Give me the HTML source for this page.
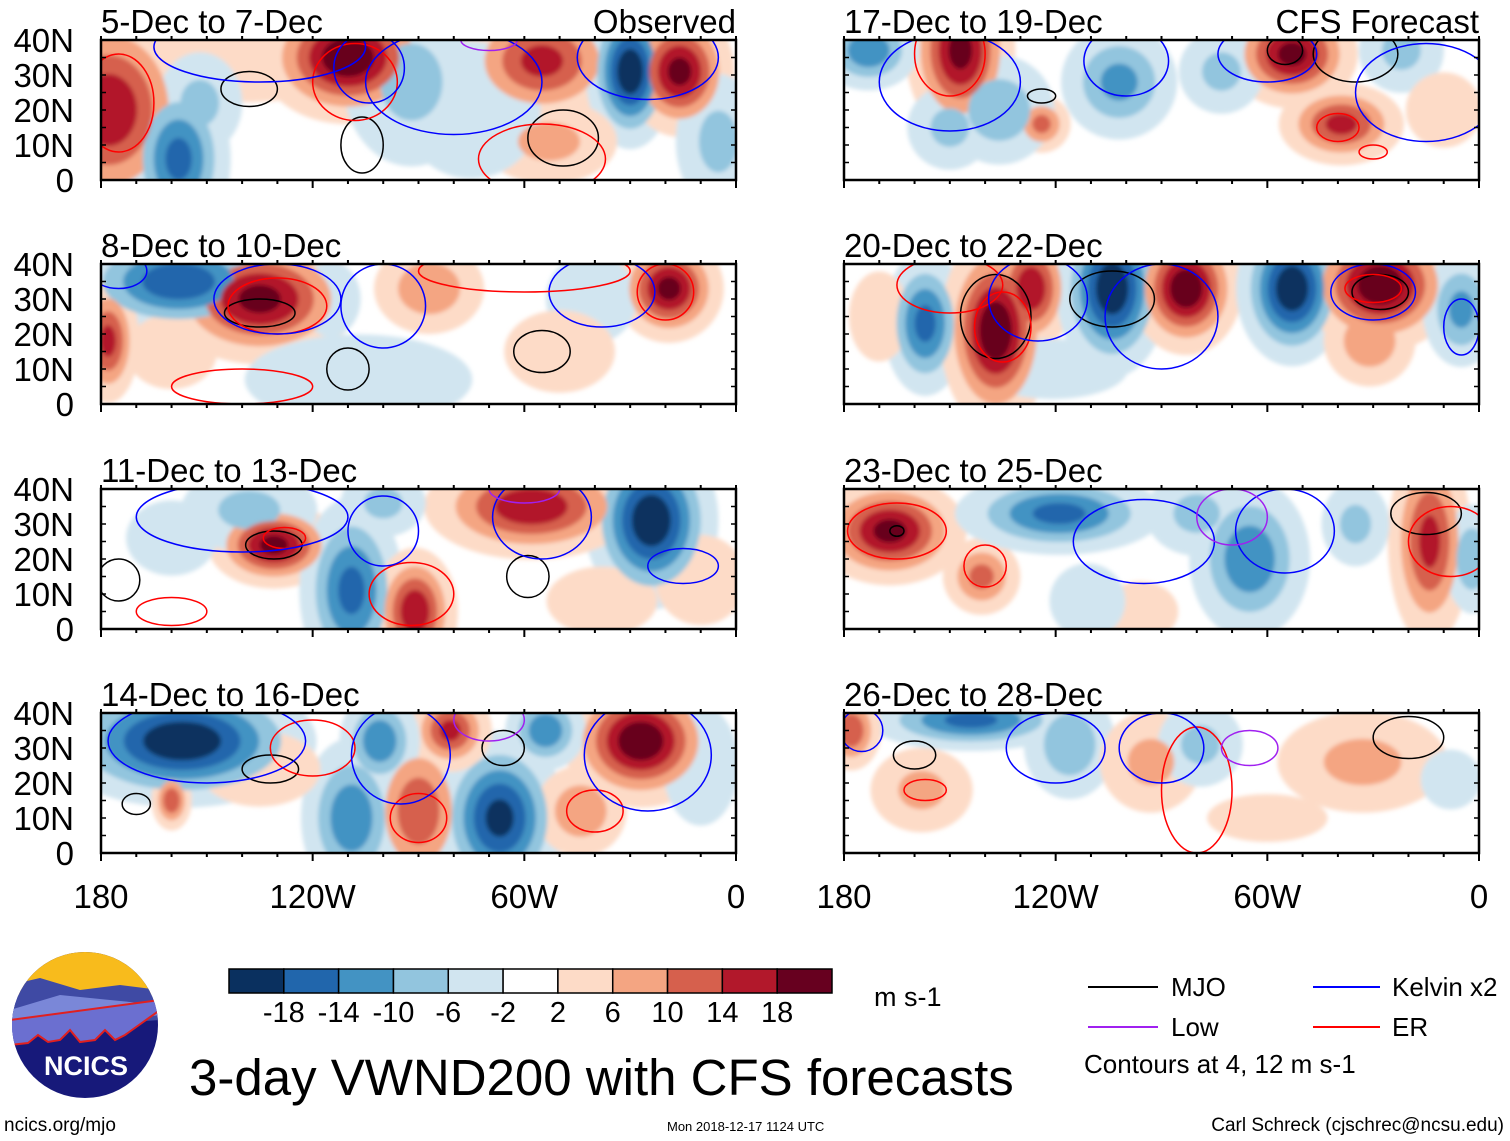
<!DOCTYPE html>
<html><head><meta charset="utf-8">
<style>
body{margin:0;background:#fff;}
svg{display:block;font-family:"Liberation Sans",Arial,sans-serif;}
</style></head>
<body>
<svg id="chart" width="1510" height="1141" viewBox="0 0 1510 1141" xmlns="http://www.w3.org/2000/svg">
<defs>
<filter id="soft" x="-20%" y="-20%" width="140%" height="140%"><feGaussianBlur stdDeviation="2"/></filter>
</defs>
<rect width="1510" height="1141" fill="#fff"/>
<g id="panels"></g>
<g id="colorbar"></g>
<text x="874" y="1006" font-size="27">m s-1</text>
<text x="189" y="1095" font-size="51">3-day VWND200 with CFS forecasts</text>
<text x="4" y="1131" font-size="19">ncics.org/mjo</text>
<text x="667" y="1131" font-size="13">Mon 2018-12-17 1124 UTC</text>
<text x="1504" y="1131" font-size="19" text-anchor="end">Carl Schreck (cjschrec@ncsu.edu)</text>
<g font-size="26">
 <g><line x1="1088" y1="987" x2="1158" y2="987" stroke="#000" stroke-width="2"/><text x="1171" y="996">MJO</text></g>
 <g><line x1="1313" y1="987" x2="1380" y2="987" stroke="#0000ff" stroke-width="2"/><text x="1392" y="996">Kelvin x2</text></g>
 <g><line x1="1088" y1="1027" x2="1158" y2="1027" stroke="#a020f0" stroke-width="2"/><text x="1171" y="1036">Low</text></g>
 <g><line x1="1313" y1="1027" x2="1380" y2="1027" stroke="#ff0000" stroke-width="2"/><text x="1392" y="1036">ER</text></g>
 <text x="1084" y="1073">Contours at 4, 12 m s-1</text>
</g>
<g>
 <clipPath id="logoclip"><circle cx="85" cy="1025" r="73"/></clipPath>
 <g clip-path="url(#logoclip)">
  <rect x="10" y="950" width="150" height="150" fill="#17197a"/>
  <rect x="10" y="950" width="150" height="45" fill="#f8bb1c"/>
  <path d="M10 985 L40 978 L80 990 L120 985 L160 990 L160 1020 L10 1030Z" fill="#3f4aa4"/>
  <path d="M10 1010 L60 995 L110 1000 L160 1005 L160 1015 L10 1035Z" fill="#7a87d8"/>
  <path d="M10 1045 L28 1043 L38 1035 L48 1042 L60 1040 L70 1030 L80 1042 L95 1040 L105 1030 L115 1040 L125 1035 L160 1010 L160 1000 L10 1020Z" fill="#6b6fd0" stroke="#e02020" stroke-width="2"/>
 </g>
 <text x="86" y="1075" font-size="27" font-weight="bold" fill="#fff" text-anchor="middle">NCICS</text>
</g>
</svg>
<script>
const levels=[-18,-14,-10,-6,-2,2,6,10,14,18];
const colors=["#0a305f","#2166ac","#4393c3","#92c5de","#d1e5f0","#ffffff","#fddbc7","#f4a582","#d6604d","#b2182b","#67001f"];
const panelTitles=["5-Dec to 7-Dec","8-Dec to 10-Dec","11-Dec to 13-Dec","14-Dec to 16-Dec","17-Dec to 19-Dec","20-Dec to 22-Dec","23-Dec to 25-Dec","26-Dec to 28-Dec"];
const latTicks=[0,10,20,30,40];
const latLabels=["0","10N","20N","30N","40N"];
const lonTicks=[-180,-120,-60,0];
const lonLabels=["180","120W","60W","0"];
// anomaly blobs: [lon, lat, value, sigmaLon, sigmaLat]
const blobs0=[[-178,20,18,8,10],[-110,35,22,8,6],[-158,6,-16,5,8],[-92,28,-8,8,10],[-55,34,16,8,6],[-30,31,-22,4,7],[-16,31,20,5,6],[-53,11,8,8,5],[-138,34,5,15,6],[-5,11,-8,5,8],[-75,20,-5,10,10],[-152,22,-8,5,6]];
const blobs1=[[-135,30,20,9,6],[-158,35,-18,10,5],[-178,18,16,3,6],[-87,33,10,6,5],[-19,33,20,5,5],[-107,7,-6,15,6],[-41,30,-6,6,6],[-115,30,-6,4,5],[-50,15,5,8,6],[-160,15,6,6,5]];
const blobs2=[[-131,24,20,6,4],[-24,31,-22,6,8],[-58,35,18,10,5],[-109,11,-16,5,9],[-91,5,18,4,6],[-138,34,-8,8,5],[-10,14,6,6,6],[-38,8,5,8,5],[-100,36,-8,5,4],[-160,26,-6,6,5]];
const blobs3=[[-157,32,-22,12,6],[-160,15,14,2,3],[-27,32,22,7,6],[-90,12,14,5,8],[-67,10,-20,6,8],[-109,10,-14,5,8],[-81,35,16,4,4],[-101,32,-14,4,5],[-54,35,-14,4,4],[-135,24,6,8,5],[-44,12,10,5,5],[-10,25,-6,5,8]];
const blobs4=[[-147,37,20,5,8],[-173,37,-14,5,4],[-124,16,12,3,3],[-136,20,-10,6,6],[-53,36,20,6,5],[-39,16,16,6,4],[-102,28,-12,6,6],[-22,37,-8,5,5],[-73,31,-8,5,5],[-150,15,-8,5,5],[-10,20,6,5,5]];
const blobs5=[[-157,23,-16,4,7],[-137,21,22,5,9],[-127,33,18,4,6],[-104,33,-22,5,8],[-83,33,22,5,6],[-53,33,-22,5,7],[-28,34,22,7,6],[-31,18,10,5,5],[-121,10,-6,10,4],[-5,27,-12,4,6],[-170,25,6,4,6]];
const blobs6=[[-167,28,20,7,5],[-141,15,12,4,4],[-119,33,-16,10,4],[-65,20,-14,6,8],[-14,25,16,4,10],[-96,5,6,5,4],[-111,8,-6,5,5],[-2,20,-10,3,6],[-80,33,-8,6,5],[-35,30,-8,4,5]];
const blobs7=[[-144,38,-16,10,3],[-178,35,14,3,4],[-158,18,8,6,5],[-116,31,-10,5,6],[-93,26,8,6,6],[-79,31,-8,5,5],[-33,26,8,10,6],[-8,21,-4,5,5],[-60,10,4,10,4]];
// contours: [lon, lat, radiusLon, radiusLat, type k=MJO b=Kelvin r=ER m=Low]
const cont0=[[-138,26,8,5,"k"],[-106,10,6,8,"k"],[-49,12,10,8,"k"],[-175,22,10,14,"r"],[-108,28,12,11,"r"],[-55,6,18,10,"r"],[-104,32,10,10,"b"],[-135,38,30,10,"b"],[-80,28,25,15,"b"],[-25,35,20,12,"b"],[-70,40,8,3,"m"]];
const cont1=[[-135,26,10,4,"k"],[-110,10,6,6,"k"],[-55,15,8,6,"k"],[-130,28,14,8,"r"],[-20,32,8,8,"r"],[-140,5,20,5,"r"],[-130,30,18,10,"b"],[-100,28,12,12,"b"],[-38,32,15,10,"b"],[-175,38,8,5,"b"],[-60,38,30,6,"r"]];
const cont2=[[-131,24,8,4,"k"],[-175,14,6,6,"k"],[-59,15,6,6,"k"],[-92,10,12,9,"r"],[-128,26,6,3,"r"],[-160,5,10,4,"r"],[-55,32,14,12,"b"],[-140,32,30,10,"b"],[-100,28,10,10,"b"],[-15,18,10,5,"b"],[-60,40,10,4,"m"]];
const cont3=[[-132,24,8,4,"k"],[-170,14,4,3,"k"],[-66,30,6,5,"k"],[-90,10,8,7,"r"],[-40,12,8,6,"r"],[-120,30,12,8,"r"],[-150,32,28,12,"b"],[-95,28,14,14,"b"],[-25,28,18,16,"b"],[-70,38,10,6,"m"]];
const cont4=[[-124,24,4,2,"k"],[-55,37,5,4,"k"],[-35,36,12,8,"k"],[-150,36,10,12,"r"],[-40,15,6,4,"r"],[-30,8,4,2,"r"],[-150,28,20,14,"b"],[-100,34,12,10,"b"],[-15,25,20,14,"b"],[-60,36,14,8,"b"]];
const cont5=[[-137,25,10,12,"k"],[-104,30,12,8,"k"],[-28,32,8,5,"k"],[-135,22,8,10,"r"],[-150,34,15,8,"r"],[-30,33,8,4,"r"],[-125,30,14,12,"b"],[-90,25,16,15,"b"],[-30,32,12,8,"b"],[-5,22,5,8,"b"]];
const cont6=[[-165,28,2,1.5,"k"],[-15,33,10,6,"k"],[-165,28,14,8,"r"],[-140,18,6,6,"r"],[-8,25,12,10,"r"],[-95,25,20,12,"b"],[-55,28,14,12,"b"],[-70,32,10,8,"m"]];
const cont7=[[-160,28,6,4,"k"],[-20,33,10,6,"k"],[-157,18,6,3,"r"],[-80,18,10,18,"r"],[-120,30,14,10,"b"],[-90,30,12,10,"b"],[-65,30,8,5,"m"],[-175,35,6,6,"b"]];

const allBlobs=[blobs0,blobs1,blobs2,blobs3,blobs4,blobs5,blobs6,blobs7];
const allConts=[cont0,cont1,cont2,cont3,cont4,cont5,cont6,cont7];
const NS="http://www.w3.org/2000/svg";
const PX=[101,844], PW=635, PY=[40,264,489,713], PH=140;
const strokeCol={k:"#000",b:"#0000ff",r:"#ff0000",m:"#a020f0"};
function mk(tag,attrs,parent){const e=document.createElementNS(NS,tag);for(const k in attrs)e.setAttribute(k,attrs[k]);parent.appendChild(e);return e;}
function colorFor(v){let i=0;while(i<levels.length&&v>levels[i])i++;return colors[i];}
const root=document.getElementById('panels');
for(let p=0;p<8;p++){
  const col=p<4?0:1,row=p%4;
  const x0=PX[col],y0=PY[row];
  const xs=lon=>x0+(lon+180)/180*PW;
  const ys=lat=>y0+PH-lat/40*PH;
  const sx=PW/180, sy=PH/40;
  const g=mk('g',{},root);
  
  
  const cid='clip'+p;
  const cp=mk('clipPath',{id:cid},g);mk('rect',{x:x0,y:y0,width:PW,height:PH},cp);
  const f=mk('g',{'clip-path':'url(#'+cid+')'},g);
  mk('rect',{x:x0,y:y0,width:PW,height:PH,fill:'#fff'},f);
  const field=mk('g',{filter:'url(#soft)'},f);
  
  
  const layers=[];
  allBlobs[p].forEach(b=>{
    const [lon,lat,v,sl,sa]=b;const av=Math.abs(v);
    [2,6,10,14,18].forEach(L=>{
      if(av>L){const r=Math.sqrt(2*Math.log(av/L));layers.push({L,lon,lat,rx:sl*r*1.45,ry:sa*r*1.45,c:colorFor(v>0?L+0.1:-L-0.1)});}
    });
  });
  layers.sort((a,b)=>a.L-b.L);
  layers.forEach(l=>{
    const e=mk('ellipse',{cx:xs(l.lon),cy:ys(l.lat),rx:l.rx*sx,ry:l.ry*sy,fill:l.c},field);
    
    
  });
  allConts[p].forEach(c=>{
    const [lon,lat,rl,ra,t]=c;
    const e=mk('ellipse',{cx:xs(lon),cy:ys(lat),rx:rl*sx,ry:ra*sy,fill:'none',stroke:strokeCol[t],'stroke-width':1.5},f);
    
    
  });
  mk('rect',{x:x0,y:y0,width:PW,height:PH,fill:'none',stroke:'#000','stroke-width':2.5},g);
  for(let lon=-180;lon<=0;lon+=10){
    const big=(lon%60===0)?8:4;
    mk('line',{x1:xs(lon),x2:xs(lon),y1:y0+PH,y2:y0+PH+big,stroke:'#000','stroke-width':2},g);
    mk('line',{x1:xs(lon),x2:xs(lon),y1:y0,y2:y0-4,stroke:'#000','stroke-width':2},g);
  }
  for(let lat=0;lat<=40;lat+=5){
    mk('line',{x1:x0,x2:x0+5,y1:ys(lat),y2:ys(lat),stroke:'#000','stroke-width':1.5},g);
    mk('line',{x1:x0+PW,x2:x0+PW-5,y1:ys(lat),y2:ys(lat),stroke:'#000','stroke-width':1.5},g);
  }
  const t=mk('text',{x:x0,y:y0-7,'font-size':33},g);t.textContent=panelTitles[p];
  
  
  if(row===0){
    const r=mk('text',{x:x0+PW,y:y0-7,'font-size':33,'text-anchor':'end'},g);r.textContent=col===0?'Observed':'CFS Forecast';
    
    
  }
  if(col===0){
    latTicks.forEach((lt,i)=>{
      const yl=mk('text',{x:74,y:ys(lt)+12,'font-size':33,'text-anchor':'end'},g);yl.textContent=latLabels[i];
      
      
    });
  }
  if(row===3){
    lonTicks.forEach((ln,i)=>{
      const xl=mk('text',{x:xs(ln),y:908,'font-size':33,'text-anchor':'middle'},g);xl.textContent=lonLabels[i];
      
      
    });
  }
}
const cb=document.getElementById('colorbar');
const cbx=229,cbw=603,cby=969,cbh=24,bw=cbw/colors.length;
colors.forEach((c,i)=>{
  const r=mk('rect',{x:cbx+i*bw,y:cby,width:bw,height:cbh,fill:c,stroke:'#000','stroke-width':1.5},cb);
  
  
});
levels.forEach((l,i)=>{
  const t=mk('text',{x:cbx+(i+1)*bw,y:1022,'font-size':29,'text-anchor':'middle'},cb);t.textContent=String(l);
  
  
});
</script>
</body></html>
